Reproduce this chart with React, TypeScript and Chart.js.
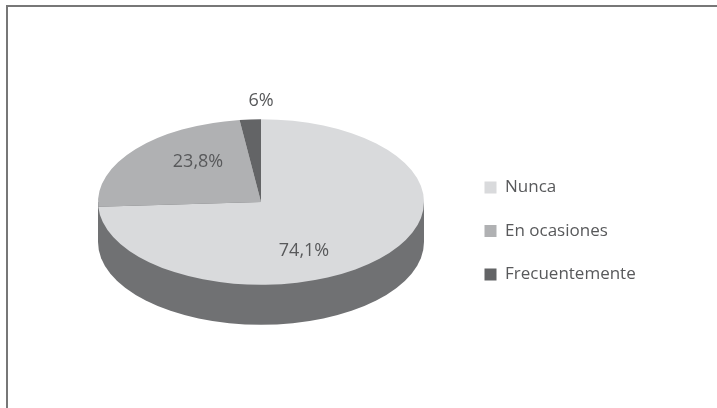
import React, { useEffect, useRef } from "react";
import { Chart, registerables } from "chart.js";

Chart.register(...registerables);

const categories = ["Nunca", "En ocasiones", "Frecuentemente"];
const seriesValues = [74.1, 23.8, 2.1];
const valueLabels = ["74,1%", "23,8%", "6%"];
const sliceColors = ["#d9dadc", "#b0b1b3", "#636466"];

const SQUASH = 0.508;
const DEPTH = 40;
const SIDE_COLOR = "#707173";
const TEXT_COLOR = "#58595b";
const FONT_FAMILY = "'Open Sans', sans-serif";
const LABEL_OFFSETS = [
  [43, 49],
  [-63, -40],
  [0, -101],
];

const pie3d = {
  id: "pie3d",
  afterLayout(chart: any) {
    const legend = chart.legend;
    legend.left = 458;
    legend.right = 700;
    legend.top = 152.5;
    legend.bottom = 400;
    legend.adjustHitBoxes();
  },
  beforeDatasetsDraw(chart: any) {
    const ctx = chart.ctx;
    const arcs = chart.getDatasetMeta(0).data;
    const { x, y, outerRadius } = arcs[0];
    const ry = outerRadius * SQUASH;
    ctx.save();
    ctx.fillStyle = SIDE_COLOR;
    ctx.beginPath();
    ctx.ellipse(x, y + DEPTH, outerRadius, ry, 0, 0, Math.PI);
    ctx.lineTo(x - outerRadius, y);
    ctx.lineTo(x + outerRadius, y);
    ctx.closePath();
    ctx.fill();
    ctx.restore();
    ctx.save();
    ctx.translate(x, y);
    ctx.scale(1, SQUASH);
    ctx.translate(-x, -y);
  },
  afterDatasetsDraw(chart: any) {
    const ctx = chart.ctx;
    ctx.restore();
    const arcs = chart.getDatasetMeta(0).data;
    const { x, y } = arcs[0];
    ctx.save();
    ctx.fillStyle = TEXT_COLOR;
    ctx.font = `18px ${FONT_FAMILY}`;
    ctx.textAlign = "center";
    ctx.textBaseline = "middle";
    valueLabels.forEach((t, i) => {
      ctx.fillText(t, x + LABEL_OFFSETS[i][0], y + LABEL_OFFSETS[i][1]);
    });
    ctx.restore();
  },
};

export default function App() {
  const ref = useRef<HTMLCanvasElement>(null);
  useEffect(() => {
    const chart = new Chart(ref.current as HTMLCanvasElement, {
      type: "pie",
      data: {
        labels: categories,
        datasets: [
          {
            data: seriesValues,
            backgroundColor: sliceColors,
            borderWidth: 0,
          },
        ],
      },
      options: {
        responsive: false,
        animation: false,
        layout: { padding: { left: 98, right: 293, top: 39, bottom: 43 } },
        plugins: {
          tooltip: { enabled: false },
          legend: {
            position: "chartArea",
            align: "start",
            labels: {
              boxWidth: 12,
              boxHeight: 12,
              padding: 26.5,
              color: TEXT_COLOR,
              font: { family: FONT_FAMILY, size: 17 },
            },
          },
        },
      } as any,
      plugins: [pie3d],
    });
    return () => chart.destroy();
  }, []);
  return (
    <div style={{ position: "fixed", left: 0, top: 0, width: 717, height: 408, background: "#fff", overflow: "hidden" }}>
      <div
        style={{
          position: "absolute",
          left: 6,
          top: 5,
          right: 0,
          bottom: 0,
          borderLeft: "2px solid #777",
          borderTop: "2px solid #777",
        }}
      />
      <canvas
        ref={ref}
        width={717}
        height={408}
        style={{ position: "absolute", left: 0, top: 0, display: "block", filter: "blur(0.5px)" }}
      />
    </div>
  );
}
